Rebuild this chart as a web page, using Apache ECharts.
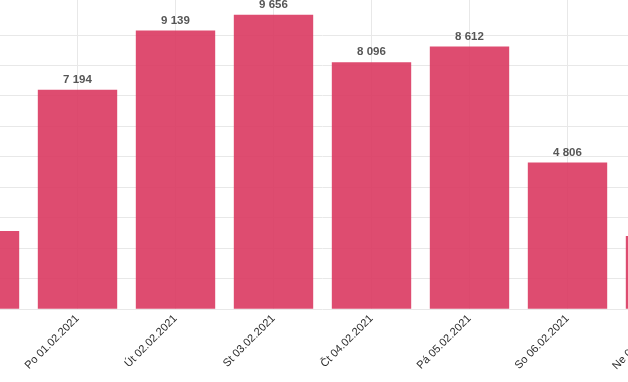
<!DOCTYPE html>
<html>
<head>
<meta charset="utf-8">
<style>html,body{margin:0;padding:0;background:#fff;overflow:hidden;width:628px;height:382px;position:relative}#c{position:absolute;left:-100px;top:-100px;width:828px;height:482px}</style>
<script src="https://cdn.jsdelivr.net/npm/echarts@6/dist/echarts.min.js"></script>
</head>
<body>
<div id="c"></div>
<script>
const categories = ['Ne 31.01.2021','Po 01.02.2021','Út 02.02.2021','St 03.02.2021','Čt 04.02.2021','Pá 05.02.2021','So 06.02.2021','Ne 07.02.2021'];
const values = [2555, 7194, 9139, 9656, 8096, 8612, 4806, 2390];

const chart = echarts.init(document.getElementById('c'));
const fmt = v => String(v).replace(/\B(?=(\d{3})+(?!\d))/g, ' ');
chart.setOption({
  animation: false,
  grid: { left: 30.5, right: 13.5, top: 43.4, bottom: 73.2, containLabel: false },
  xAxis: {
    type: 'category',
    data: categories,
    axisLine: { show: false },
    axisTick: { show: false },
    axisLabel: { rotate: 45, margin: 8, fontSize: 11, color: '#2a2a2a', fontFamily: 'Liberation Sans, Arial, sans-serif', interval: 0 },
    splitLine: { show: true, alignWithLabel: true, lineStyle: { color: '#e8e8e8', width: 1 } }
  },
  yAxis: [{
    type: 'value',
    min: 0, max: 12000, interval: 1000,
    axisLabel: { show: false },
    axisLine: { show: false },
    axisTick: { show: false },
    splitLine: { show: false }
  }, {
    type: 'value',
    min: 0, max: 12000, interval: 1000,
    axisLabel: { show: false },
    axisLine: { show: false },
    axisTick: { show: false },
    splitLine: { show: true, lineStyle: { color: ['#e8e8e8','#e8e8e8','#e8e8e8','#e8e8e8','#e8e8e8','#e8e8e8','#e8e8e8','#e8e8e8','#e8e8e8','#e8e8e8','transparent','transparent','transparent'], width: 1 } }
  }],
  series: [{
    type: 'bar',
    data: values,
    yAxisIndex: 0,
    barCategoryGap: '19%',
    itemStyle: { color: 'rgb(218,56,96)', opacity: 0.9 },
    label: {
      show: true, position: 'top', distance: 4,
      fontSize: 11.5, fontWeight: 'bold', color: '#444',
      fontFamily: 'Liberation Sans, Arial, sans-serif',
      formatter: p => fmt(p.value)
    }
  }]
});
</script>
</body>
</html>
